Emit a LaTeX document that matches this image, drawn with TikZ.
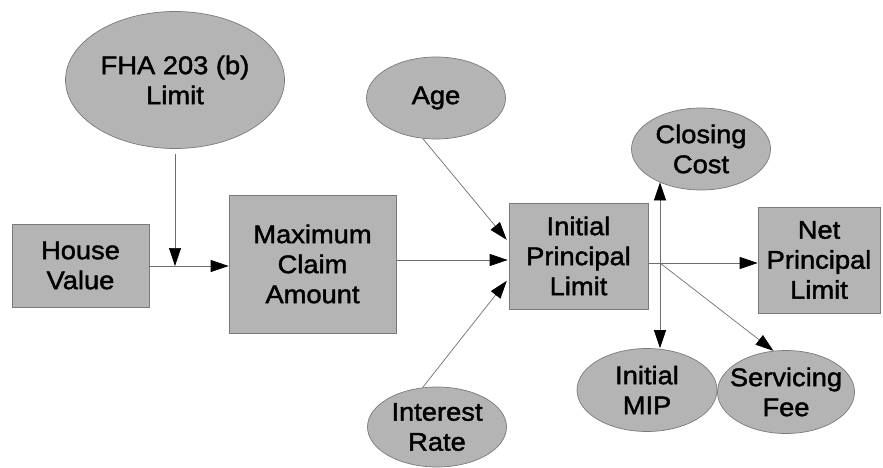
\documentclass[tikz,border=0pt]{standalone}
\usepackage{fontspec}
\setmainfont[FakeStretch=1.07,FakeBold=1.6]{Liberation Sans}
\usetikzlibrary{shapes.geometric,arrows.meta,calc}
\definecolor{boxfill}{HTML}{B4B4B4}
\definecolor{boxline}{HTML}{7A7A7A}
\definecolor{wire}{HTML}{6E6E6E}
\begin{document}
\begin{tikzpicture}[x=1pt,y=-1pt,
  base/.style={fill=boxfill,draw=boxline,line width=0.7pt,inner sep=0pt,align=center,
    font=\fontsize{25.5}{30}\selectfont},
  rbox/.style={base,rectangle,minimum width=#1},
  oval/.style={base,ellipse,inner xsep=-12pt,inner ysep=-4pt,minimum width=139,minimum height=82},
  arr/.style={draw=wire,line width=0.7pt,-{Triangle[length=18pt,width=12pt,color=black]}},
  ln/.style={draw=wire,line width=0.7pt}]
\useasboundingbox (0,0) rectangle (883,468);
\node[oval,minimum width=219,minimum height=137] (fha) at (175,80) {FHA 203 (b)\\Limit};
\node[rbox=137,minimum height=83] (hv) at (80.5,265.5) {House\\Value};
\node[rbox=167,minimum height=138] (mca) at (312.5,264) {Maximum\\Claim\\Amount};
\node[oval] (age) at (436,98) {Age};
\node[oval,minimum height=80] (ir) at (437,427) {Interest\\Rate};
\node[rbox=139,minimum height=106] (ipl) at (578.5,256) {Initial\\Principal\\Limit};
\node[oval] (cc) at (701,149) {Closing\\Cost};
\node[rbox=122,minimum height=106] (net) at (819,260) {Net\\Principal\\Limit};
\node[oval,minimum width=140,minimum height=83] (mip) at (647,390) {Initial\\MIP};
\node[oval,minimum width=137,minimum height=83] (sf) at (786,392) {Servicing\\Fee};
\coordinate (j1) at (175,266);
\coordinate (j2) at (660,263);
\draw[arr] ($(fha.south)+(0,5)$) -- (j1);
\draw[arr] (hv.east |- j1) -- (mca.west |- j1);
\draw[arr] ($(mca.east)+(0,-4)$) -- ($(ipl.west)+(-1,4)$);
\draw[arr,shorten >=3pt] (age.-108) -- ($(ipl.north west)!0.37!(ipl.south west)$);
\draw[arr,shorten >=3pt] (ir.110) -- ($(ipl.north west)!0.71!(ipl.south west)$);
\draw[arr] (ipl.east |- j2) -- (net.west |- j2);
\draw[arr] (j2) -- ($(j2 |- cc.south)+(0,-8)$);
\draw[arr] (j2) -- (j2 |- mip.north);
\draw[arr] (j2) -- (sf.107);
\end{tikzpicture}
\end{document}
